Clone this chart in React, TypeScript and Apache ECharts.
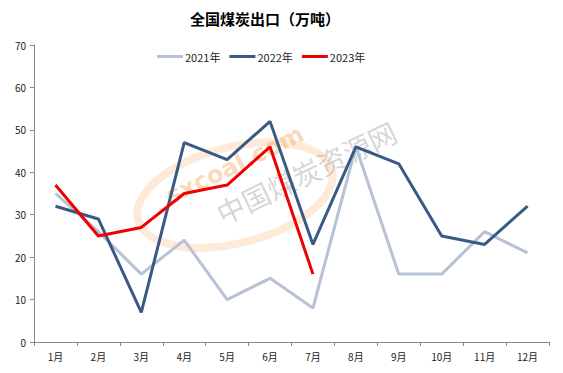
import React, { useEffect, useRef } from "react";
import * as echarts from "echarts";

const months = ["1月", "2月", "3月", "4月", "5月", "6月", "7月", "8月", "9月", "10月", "11月", "12月"];
const y2021 = [35, 26, 16, 24, 10, 15, 8, 46, 16, 16, 26, 21];
const y2022 = [32, 29, 7, 47, 43, 52, 23, 46, 42, 25, 23, 32];
const y2023 = [37, 25, 27, 35, 37, 46, 16];
const yTicks = [0, 10, 20, 30, 40, 50, 60, 70];

const FONT = "'Noto Sans CJK SC', 'DejaVu Sans', sans-serif";

export default function App() {
  const ref = useRef<HTMLDivElement>(null);
  useEffect(() => {
    if (!ref.current) return;
    const chart = echarts.init(ref.current, undefined, { renderer: "svg" });
    chart.setOption({
      animation: false,
      backgroundColor: "#fff",
      title: {
        text: "全国煤炭出口（万吨）",
        left: 185,
        top: 6,
        textStyle: { fontSize: 15, fontWeight: "bold", color: "#000", fontFamily: FONT },
      },
      legend: {
        top: 46,
        left: 152,
        itemWidth: 26,
        itemHeight: 3,
        itemGap: 9,
        icon: "rect",
        textStyle: { fontSize: 11, color: "#222", fontFamily: FONT, padding: [0, 0, 0, -3] },
        data: ["2021年", "2022年", "2023年"],
      },
      grid: { left: 34, right: 14, top: 45, bottom: 31 },
      graphic: [
        {
          type: "ellipse",
          z: 0,
          shape: { cx: 235, cy: 195, rx: 100, ry: 48 },
          rotation: 0.25,
          originX: 235,
          originY: 195,
          style: { fill: "none", stroke: "rgba(247,170,100,0.25)", lineWidth: 8 },
        },
        {
          type: "text",
          z: 0,
          x: 235,
          y: 165,
          rotation: 0.45,
          style: {
            text: "sxcoal.com",
            fill: "rgba(247,170,100,0.45)",
            font: "bold 24px 'DejaVu Sans', sans-serif",
            align: "center",
            verticalAlign: "middle",
          },
        },
        {
          type: "text",
          z: 0,
          x: 306,
          y: 172,
          rotation: 0.45,
          style: {
            text: "中国煤炭资源网",
            fill: "rgba(150,150,150,0.4)",
            font: "28px 'Noto Sans CJK SC', sans-serif",
            align: "center",
            verticalAlign: "middle",
          },
        },
      ],
      xAxis: {
        type: "category",
        data: months,
        boundaryGap: true,
        axisLine: { lineStyle: { color: "#888", width: 1 } },
        axisTick: { show: true, alignWithLabel: false, length: 4, lineStyle: { color: "#888" } },
        axisLabel: { fontSize: 10, color: "#222", fontFamily: FONT, margin: 9 },
        splitLine: { show: false },
      },
      yAxis: {
        type: "value",
        min: 0,
        max: 70,
        interval: 10,
        axisLine: { show: true, lineStyle: { color: "#888", width: 1 } },
        axisTick: { show: true, length: 4, lineStyle: { color: "#888" } },
        axisLabel: {
          fontSize: 10,
          color: "#222",
          fontFamily: FONT,
          margin: 8,
          formatter: (v: number) => (yTicks.includes(v) ? String(v) : ""),
        },
        splitLine: { show: false },
      },
      series: [
        {
          name: "2021年",
          type: "line",
          data: y2021,
          symbol: "none",
          z: 3,
          lineStyle: { color: "#B7C2D6", width: 3 },
          itemStyle: { color: "#B7C2D6" },
        },
        {
          name: "2022年",
          type: "line",
          data: y2022,
          symbol: "none",
          z: 4,
          lineStyle: { color: "#3A5A86", width: 3 },
          itemStyle: { color: "#3A5A86" },
        },
        {
          name: "2023年",
          type: "line",
          data: y2023,
          symbol: "none",
          z: 5,
          lineStyle: { color: "#F00000", width: 3 },
          itemStyle: { color: "#F00000" },
        },
      ],
    });
    return () => chart.dispose();
  }, []);
  return <div ref={ref} style={{ width: 563, height: 373, position: "fixed", left: 0, top: 0 }} />;
}
